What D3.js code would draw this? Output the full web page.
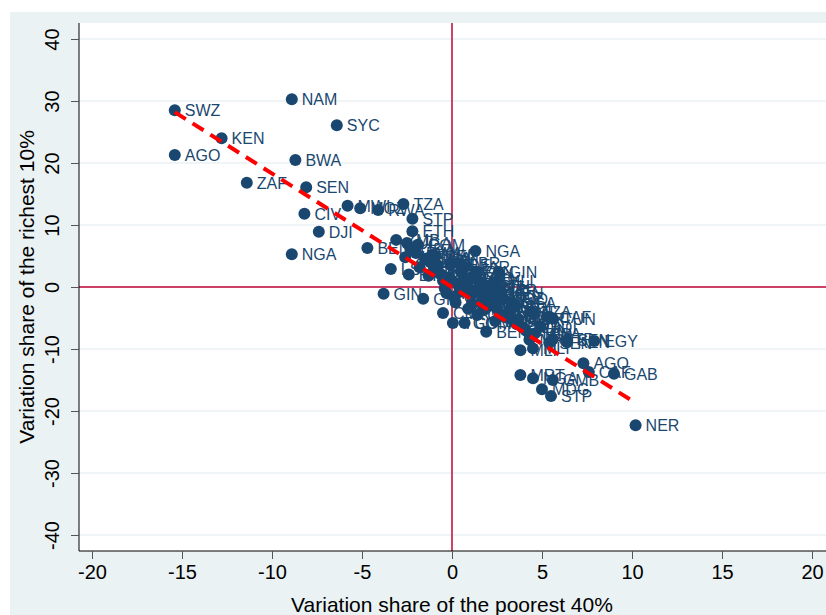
<!DOCTYPE html>
<html><head><meta charset="utf-8">
<script src="https://cdn.jsdelivr.net/npm/d3@7"></script>
<style>body{margin:0;background:#fff;}text{font-family:Arial,"Liberation Sans",sans-serif;}</style>
</head><body><svg id="c" width="826" height="615"></svg>
<script>
const codes = ["SWZ","NAM","SYC","KEN","AGO","BWA","ZAF","SEN","NGA","DJI","GIN","NGA","GIN","NER","AGO","GAB","EGY","STP",
"CIV","MWI","MOZ","RWA","TZA","STP","ETH","BEN","UGA","ZMB","LSO","GIN","CMR","TGO","COM","BEN","MLI","MRT","NGA","GMB",
"MDG","MRT","CAF","KEN","SEN","STP","CAF","SEN","BDI","TCD","TUN","MLI","GHA","BFA","NER","CMR","ETH","MAR","TZA","UGA",
"GHA","ZMB","MWI","BDI","RWA","LBR","SLE","CIV","BFA","TGO","MOZ","MDG","COD","SDN","EGY","TUN","MAR","DZA","GNB","CPV",
"ZWE","LSO","BEN","MLI","NGA","GAB","COG","CMR","ETH","KEN","UGA","TZA","GHA","SEN","MRT","GIN","NER","TCD","BDI","RWA",
"ZAF","COM","MWI","GMB","SLE","LBR","TGO","BFA","CIV","MOZ","ZMB","ETH","UGA","GHA","NER","MLI","CMR","SEN","TZA","MAR"];
const xs = [-15.4,-8.9,-6.4,-12.8,-15.4,-8.7,-11.4,-8.1,-8.9,-7.4,-3.8,1.3,2.6,10.2,7.3,9.0,7.9,5.5,
-8.2,-5.8,-5.1,-4.1,-2.7,-2.2,-2.2,-4.7,-2.5,-3.1,-3.4,-1.6,-0.5,0.05,0.7,1.9,3.8,3.8,4.5,5.6,
5.0,4.3,7.6,6.4,6.4,5.6,5.4,5.4,4.9,4.3,5.6,4.5,-1.5,-1.0,-0.6,-0.2,0.3,0.8,1.2,1.6,
2.1,2.5,3.0,3.4,-2.0,-1.2,-0.8,0.0,0.5,1.0,1.5,2.2,2.8,3.2,3.6,4.1,-0.3,0.2,0.9,1.4,
1.8,2.4,-1.8,-1.3,-0.4,0.6,1.1,1.7,2.0,2.7,3.3,3.9,-2.3,-0.9,0.4,1.3,2.3,2.9,3.5,4.6,
-2.6,-1.9,-1.1,-0.7,-0.1,0.4,0.9,1.6,2.1,2.6,3.1,-2.4,-1.4,0.1,1.0,2.5,3.7,-0.5,4.4,0.7];
const ys = [28.5,30.3,26.1,24.0,21.3,20.5,16.8,16.1,5.3,8.9,-1.1,5.8,2.4,-22.3,-12.3,-14.0,-8.7,-17.6,
11.8,13.1,12.7,12.4,13.4,11.0,9.0,6.3,7.1,7.6,2.9,-1.9,-4.2,-5.8,-5.8,-7.2,-10.2,-14.2,-14.7,-15.0,
-16.5,-8.5,-13.7,-8.9,-8.6,-8.4,-4.8,-9.0,-6.4,-7.6,-5.1,-9.9,4.5,3.0,2.0,1.5,0.5,-0.5,-1.0,-2.5,
-3.0,-3.5,-4.5,-5.5,5.5,4.0,3.5,1.0,2.5,1.5,0.0,-1.5,-2.0,-4.0,-6.0,-7.0,-1.0,-2.5,-3.5,-4.5,
-1.2,-5.5,3.2,1.8,-0.2,0.8,-2.8,-3.8,0.2,-1.0,-2.5,-6.5,6.0,5.0,-0.8,2.5,-0.5,-4.8,-3.2,-7.5,
4.8,6.8,5.2,2.2,3.6,3.8,1.2,0.6,-2.2,-1.8,-5.0,2.0,4.6,-1.6,-0.4,0.9,-5.2,1.0,-4.0,3.2];
const fitX = [-15.4, 10.2];
const fitY = [28.2, -18.7];
const xTicks = [-20,-15,-10,-5,0,5,10,15,20];
const yTicks = [40,30,20,10,0,-10,-20,-30,-40];

const svg = d3.select("#c");
const L=79,T=23,R=826,B=551;
svg.append("rect").attr("x",10).attr("y",12).attr("width",816).attr("height",603).attr("fill","#eaf2f3");
svg.append("rect").attr("x",L).attr("y",T).attr("width",R-L).attr("height",B-T).attr("fill","#fff");
const x=d3.scaleLinear().domain([-20,20]).range([92,812]);
const y=d3.scaleLinear().domain([-40,40]).range([535,39]);
yTicks.forEach(t=>svg.append("line").attr("x1",L).attr("x2",R).attr("y1",y(t)).attr("y2",y(t)).attr("stroke","#eaf2f3").attr("stroke-width",1.5));
svg.append("line").attr("x1",L).attr("x2",R).attr("y1",y(0)).attr("y2",y(0)).attr("stroke","#c10534").attr("stroke-width",1.5);
svg.append("line").attr("x1",x(0)).attr("x2",x(0)).attr("y1",T).attr("y2",B).attr("stroke","#c10534").attr("stroke-width",1.5);
const fmt=d=>String(d);
const xa=svg.append("g").attr("transform",`translate(0,${B})`).call(d3.axisBottom(x).tickValues(xTicks).tickSize(8).tickPadding(6).tickFormat(fmt));
xa.select(".domain").attr("d",`M${L},0H${R}`).attr("stroke","#000");
xa.selectAll("text").attr("font-size",20).attr("fill","#000");
xa.selectAll("line").attr("stroke","#555");
const ya=svg.append("g").attr("transform",`translate(${L},0)`).call(d3.axisLeft(y).tickValues(yTicks).tickSize(8).tickFormat(fmt));
ya.select(".domain").attr("d",`M0,${T}V${B}`).attr("stroke","#000");
ya.selectAll("line").attr("stroke","#555");
ya.selectAll("text").attr("font-size",20).attr("fill","#000").attr("text-anchor","middle").attr("x",0).attr("dy",0)
  .attr("transform","translate(-20,0) rotate(-90)");
const g=svg.append("g");
codes.forEach((c,i)=>{
  g.append("circle").attr("cx",x(xs[i])).attr("cy",y(ys[i])).attr("r",6).attr("fill","#1a476f");
});
codes.forEach((c,i)=>{
  g.append("text").attr("x",x(xs[i])+10).attr("y",y(ys[i])+6).attr("font-size",16).attr("fill","#1a476f").text(c);
});
svg.append("line").attr("x1",x(fitX[0])).attr("y1",y(fitY[0])).attr("x2",x(fitX[1])).attr("y2",y(fitY[1]))
  .attr("stroke","#ff0000").attr("stroke-width",4).attr("stroke-dasharray","13,8");
svg.append("text").attr("x",452).attr("y",612).attr("text-anchor","middle").attr("font-size",21).attr("fill","#000").text("Variation share of the poorest 40%");
svg.append("text").attr("transform","translate(34,287) rotate(-90)").attr("text-anchor","middle").attr("font-size",21).attr("fill","#000").text("Variation share of the richest 10%");
</script></body></html>
